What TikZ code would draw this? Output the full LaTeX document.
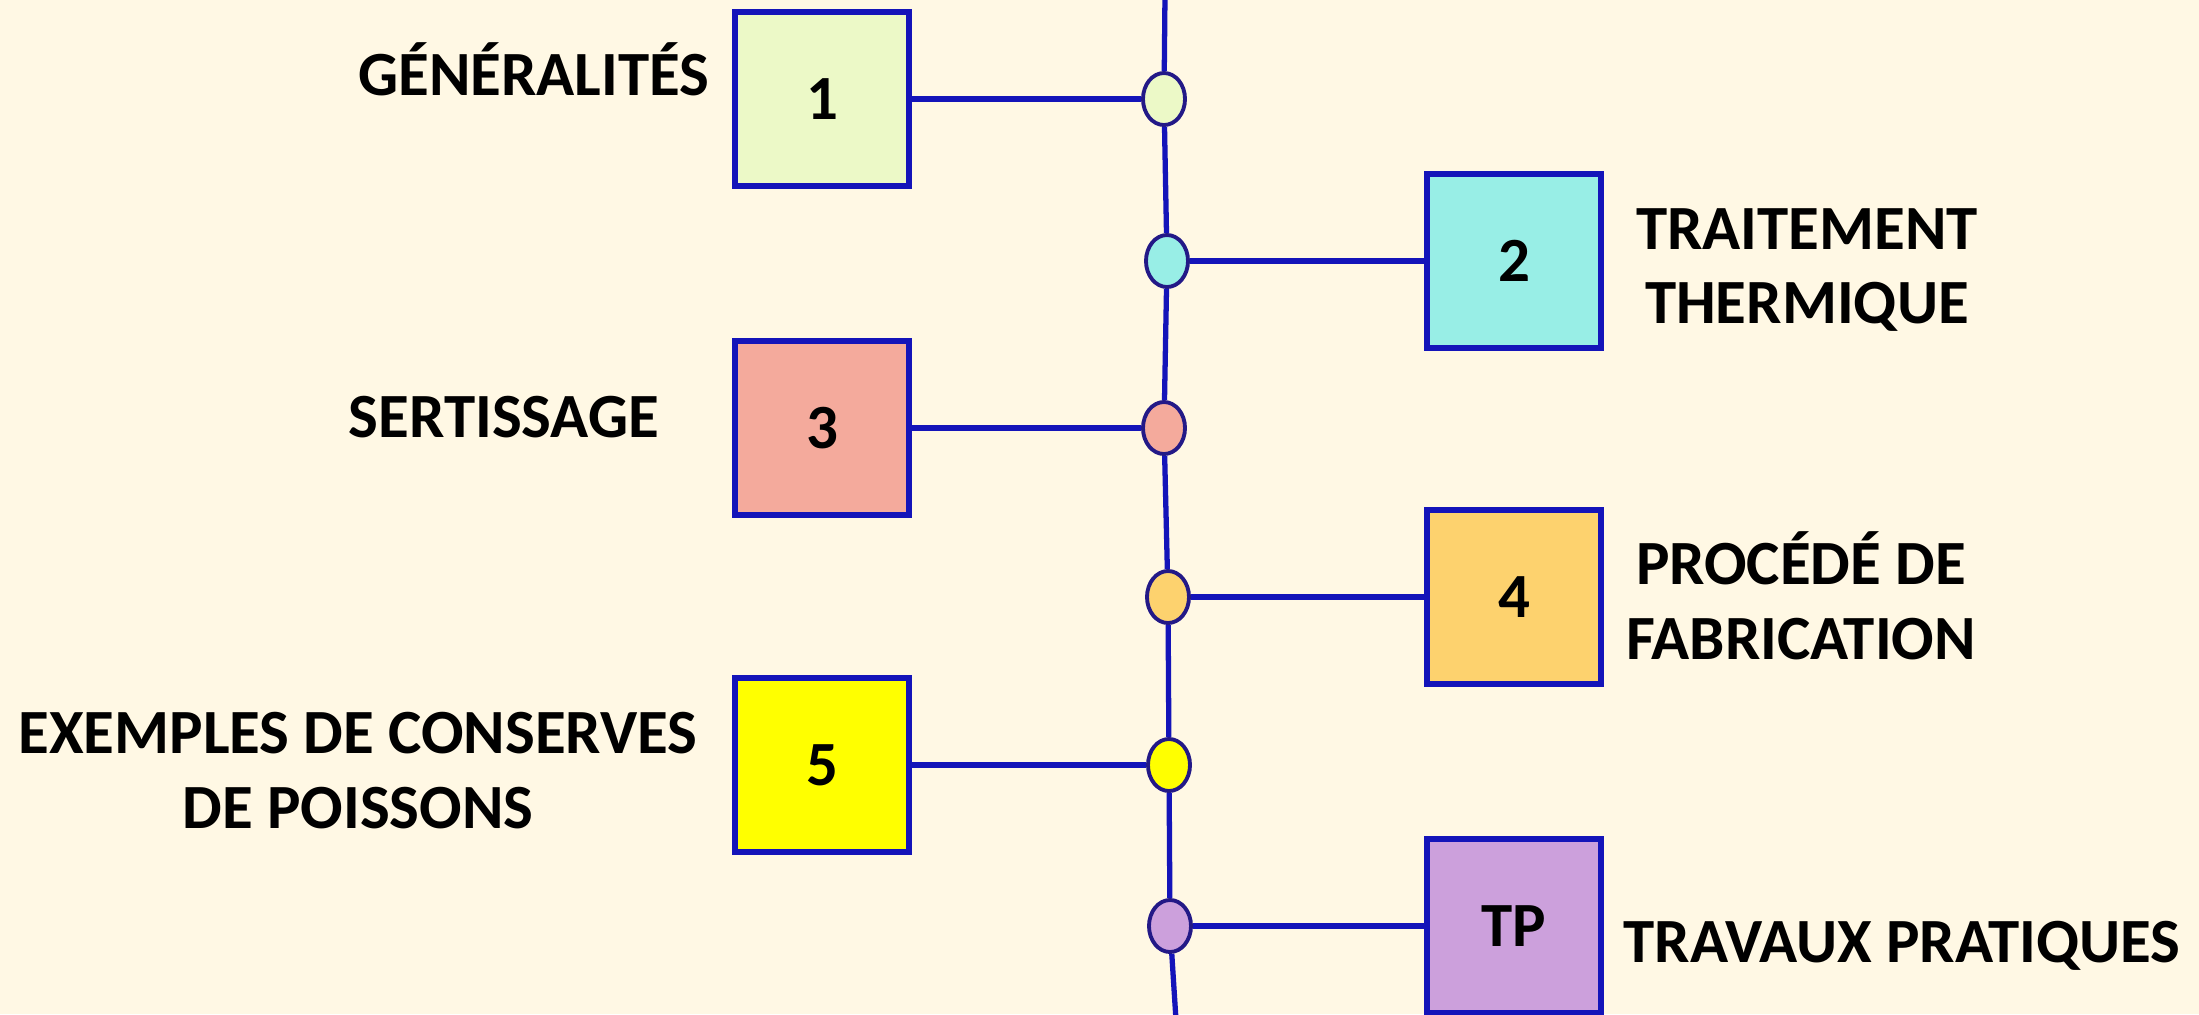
\documentclass[tikz,border=0pt]{standalone}
\usepackage{fontspec}
\setmainfont{Carlito}
\usetikzlibrary{shapes.geometric}
\definecolor{bgcream}{RGB}{255,248,228}
\definecolor{linkblue}{RGB}{20,20,185}
\definecolor{jointrim}{RGB}{35,25,135}
\definecolor{fillone}{RGB}{236,249,199}
\definecolor{filltwo}{RGB}{152,238,230}
\definecolor{fillthree}{RGB}{244,170,156}
\definecolor{fillfour}{RGB}{253,210,110}
\definecolor{fillfive}{RGB}{255,255,0}
\definecolor{filltp}{RGB}{204,160,220}
\tikzset{
	chapbox/.style={draw=linkblue, line width=1.7pt, minimum size=1.74cm, inner sep=0pt,
		font=\bfseries\fontsize{17.9pt}{21.3pt}\selectfont},
	joint/.style={ellipse, draw=jointrim, line width=1.1pt, minimum width=0.42cm,
		minimum height=0.52cm, inner sep=0pt},
	title/.style={inner sep=0pt, align=center, font=\bfseries\fontsize{17.9pt}{21.3pt}\selectfont},
	link/.style={draw=linkblue, line width=1.5pt}
}
\begin{document}
\begin{tikzpicture}[x=0.01cm,y=-0.01cm]
	\useasboundingbox (0,0) rectangle (2199,1014);
	\fill[bgcream] (0,0) rectangle (2199,1014);
	\coordinate (top) at (1165,-5);
	\coordinate (bottom) at (1176,1020);
	% joints on the spine
	\node[joint, fill=fillone] at (1164,99) (j1) {};
	\node[joint, fill=filltwo] at (1167,261) (j2) {};
	\node[joint, fill=fillthree] at (1164,428) (j3) {};
	\node[joint, fill=fillfour] at (1168,597) (j4) {};
	\node[joint, fill=fillfive] at (1169,765) (j5) {};
	\node[joint, fill=filltp] at (1170,926) (jtp) {};
	% chapter boxes
	\node[chapbox, fill=fillone] at (822,99) (b1) {1};
	\node[chapbox, fill=filltwo] at (1514,261) (b2) {2};
	\node[chapbox, fill=fillthree] at (822,428) (b3) {3};
	\node[chapbox, fill=fillfour] at (1514,597) (b4) {4};
	\node[chapbox, fill=fillfive] at (822,765) (b5) {5};
	\node[chapbox, fill=filltp] at (1514,926) (btp) {TP};
	% titles
	\node[title, anchor=base east] at (710,95) (t1) {GÉNÉRALITÉS};
	\node[title] at (1807,270) (t2) {TRAITEMENT\\THERMIQUE};
	\node[title, anchor=base west] at (348,437) (t3) {SERTISSAGE};
	\node[title] at (1801,596) (t4) {PROCÉDÉ DE\\FABRICATION};
	\node[title] at (358,771) (t5) {EXEMPLES DE CONSERVES\\DE POISSONS};
	\node[title, anchor=base west] at (1623,962) (ttp) {TRAVAUX PRATIQUES};
	% spine and branches
	\draw[link] (top) -- (j1) -- (j2) -- (j3) -- (j4) -- (j5) -- (jtp) -- (bottom);
	\path[link] (b1) edge (j1)
	(j2) edge (b2)
	(b3) edge (j3)
	(j4) edge (b4)
	(b5) edge (j5)
	(jtp) edge (btp);
\end{tikzpicture}
\end{document}
